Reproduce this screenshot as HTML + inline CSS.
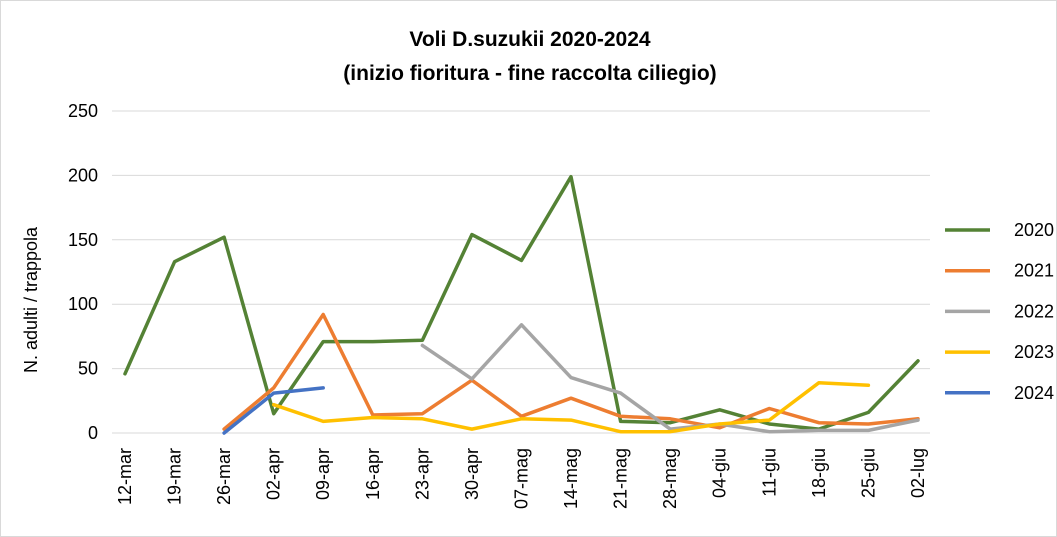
<!DOCTYPE html>
<html><head><meta charset="utf-8"><style>
html,body{margin:0;padding:0;background:#fff}
svg{display:block;font-family:"Liberation Sans",Arial,sans-serif}
</style></head><body>
<svg id="c" width="1057" height="537" xmlns="http://www.w3.org/2000/svg">
<rect x="0.5" y="0.5" width="1056" height="536" fill="#fff" stroke="#d9d9d9"/>
<text x="530" y="46" font-size="21" font-weight="bold" text-anchor="middle" fill="#000">Voli D.suzukii 2020-2024</text>
<text x="530" y="80" font-size="21" font-weight="bold" text-anchor="middle" fill="#000">(inizio fioritura - fine raccolta ciliegio)</text>
<text transform="translate(37,300) rotate(-90)" font-size="18" text-anchor="middle" fill="#000">N. adulti / trappola</text>
<g id="g"></g>
</svg>
<script>
const g=document.getElementById('g');let s='';
const y=v=>433-v*1.288, x=i=>125+49.56*i;
for(let v=0;v<=250;v+=50){s+=`<line x1="112" x2="930" y1="${y(v)}" y2="${y(v)}" stroke="#d9d9d9"/>`;
s+=`<text x="98" y="${y(v)+6}" font-size="18" text-anchor="end">${v}</text>`;}
const L=["12-mar","19-mar","26-mar","02-apr","09-apr","16-apr","23-apr","30-apr","07-mag","14-mag","21-mag","28-mag","04-giu","11-giu","18-giu","25-giu","02-lug"];
L.forEach((l,i)=>s+=`<text transform="translate(${x(i)+6},448) rotate(-90)" font-size="18" text-anchor="end">${l}</text>`);
const D=[
["2020","#548235",[46,133,152,15,71,71,72,154,134,199,9,8,18,7,3,16,56]],
["2021","#ED7D31",[null,null,3,35,92,14,15,41,13,27,13,11,4,19,8,7,11]],
["2022","#A5A5A5",[null,null,null,null,null,null,68,42,84,43,31,3,7,1,2,2,10]],
["2023","#FFC000",[null,null,null,22,9,12,11,3,11,10,1,1,7,10,39,37,null]],
["2024","#4472C4",[null,null,0,31,35]]];
D.forEach((d,k)=>{let p=d[2].map((v,i)=>v==null?null:`${x(i).toFixed(1)},${y(v).toFixed(1)}`).filter(a=>a);
s+=`<polyline points="${p.join(' ')}" fill="none" stroke="${d[1]}" stroke-width="3.5" stroke-linejoin="round" stroke-linecap="round"/>`;
const ly=230+k*40.7;
s+=`<line x1="945" x2="990" y1="${ly}" y2="${ly}" stroke="${d[1]}" stroke-width="3.5"/>`;
s+=`<text x="1014" y="${ly+6}" font-size="18">${d[0]}</text>`;});
g.innerHTML=s;
</script>
</body></html>
